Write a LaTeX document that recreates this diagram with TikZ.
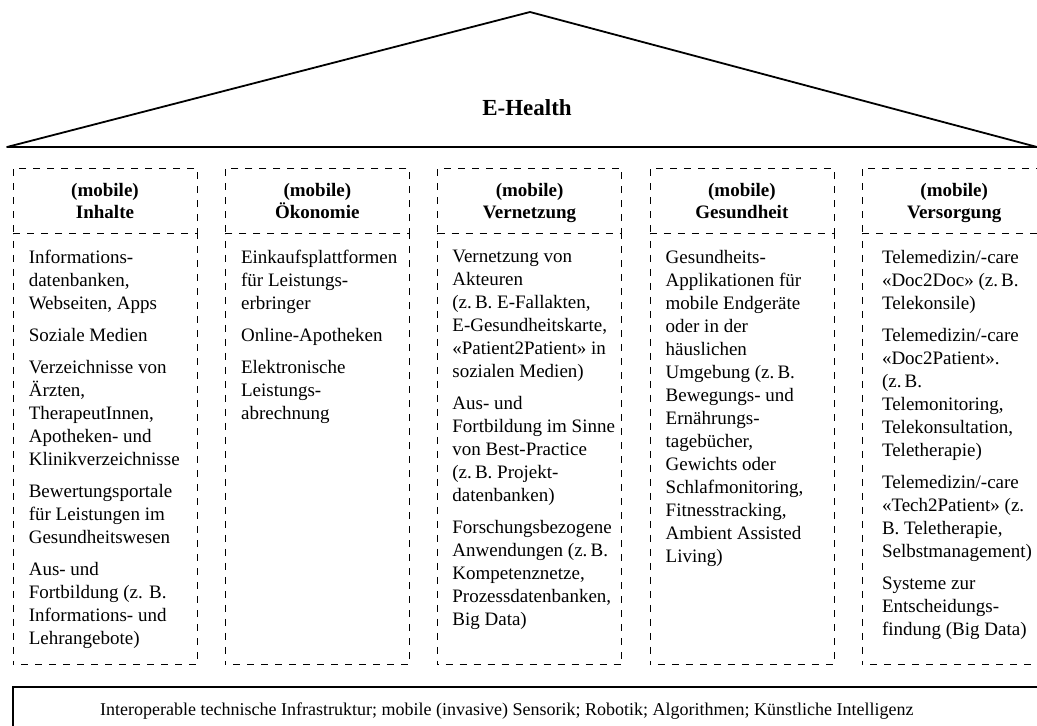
\documentclass[tikz,border=0pt]{standalone}
\usepackage{fontspec}
\setmainfont{Liberation Serif}
\usetikzlibrary{positioning}
\newcommand{\colhead}[1]{\rule{0pt}{18pt}(mobile)\\#1\rule[-5pt]{0pt}{5pt}}

\begin{document}
\begin{tikzpicture}[x=1pt,y=1pt,
  head/.style={draw,dash pattern=on 7pt off 7pt,line width=0.8pt,minimum width=184pt,minimum height=65pt,inner sep=0pt,align=center,font=\fontsize{19}{22}\selectfont\bfseries},
  body/.style={draw,dash pattern=on 7pt off 7pt,dash phase=6pt,line width=0.8pt,minimum width=184pt,minimum height=431pt,inner sep=0pt},
  items/.style={anchor=north west,inner sep=0pt,align=left,font=\fontsize{19}{23}\selectfont,execute at begin node={\rule{0pt}{14pt}}},
  roof/.style={line width=1.8pt,line join=round},
  frame/.style={line width=1.6pt},
  node distance=0pt and 27.5pt]
  \useasboundingbox (0,0) rectangle (1037,-726);
  \clip (0,0) rectangle (1037,-726);

  % roof
  \draw[roof] (7,-147) -- (530,-12) -- (1037,-147) -- cycle;
  \node[font=\fontsize{23}{27}\selectfont\bfseries] (ehealth) at (527,-108) {E-Health};

  % column heads
  \node[head] (hInh) at (105,-200.5) {\colhead{Inhalte}};
  \node[head,right=of hInh] (hOek) {\colhead{Ökonomie}};
  \node[head,right=of hOek] (hVer) {\colhead{Vernetzung}};
  \node[head,right=of hVer] (hGes) {\colhead{Gesundheit}};
  \node[head,right=of hGes] (hVso) {\colhead{Versorgung}};

  % column bodies
  \node[body,below=of hInh] (bInh) {};
  \node[body,below=of hOek] (bOek) {};
  \node[body,below=of hVer] (bVer) {};
  \node[body,below=of hGes] (bGes) {};
  \node[body,below=of hVso] (bVso) {};

  \node[items] (tInh) at ([xshift=16pt,yshift=-16.5pt]bInh.north west)
    {Informations-\\datenbanken,\\Webseiten, Apps\\[9pt]
     Soziale Medien\\[9pt]
     Verzeichnisse von\\Ärzten,\\TherapeutInnen,\\Apotheken- und\\Klinikverzeichnisse\\[9pt]
     Bewertungsportale\\für Leistungen im\\Gesundheitswesen\\[9pt]
     Aus- und\\Fortbildung (z. B.\\Informations- und\\Lehrangebote)};
  \node[items] (tOek) at ([xshift=16pt,yshift=-16.5pt]bOek.north west)
    {Einkaufsplattformen\\für Leistungs-\\erbringer\\[9pt]
     Online-Apotheken\\[9pt]
     Elektronische\\Leistungs-\\abrechnung};
  \node[items] (tVer) at ([xshift=15pt,yshift=-16.5pt]bVer.north west)
    {Vernetzung von\\Akteuren\\(z.\,B. E-Fallakten,\\E-Gesundheitskarte,\\«Patient2Patient» in\\sozialen Medien)\\[9pt]
     Aus- und\\Fortbildung im Sinne\\von Best-Practice\\(z.\,B. Projekt-\\datenbanken)\\[9pt]
     Forschungsbezogene\\Anwendungen (z.\,B.\\Kompetenznetze,\\Prozessdatenbanken,\\Big Data)};
  \node[items] (tGes) at ([xshift=16pt,yshift=-16.5pt]bGes.north west)
    {Gesundheits-\\Applikationen für\\mobile Endgeräte\\oder in der\\häuslichen\\Umgebung (z.\,B.\\Bewegungs- und\\Ernährungs-\\tagebücher,\\Gewichts oder\\Schlafmonitoring,\\Fitnesstracking,\\Ambient Assisted\\Living)};
  \node[items] (tVso) at ([xshift=20pt,yshift=-16.5pt]bVso.north west)
    {Telemedizin/-care\\«Doc2Doc» (z.\,B.\\Telekonsile)\\[9pt]
     Telemedizin/-care\\«Doc2Patient».\\(z.\,B.\\Telemonitoring,\\Telekonsultation,\\Teletherapie)\\[9pt]
     Telemedizin/-care\\«Tech2Patient» (z.\\B. Teletherapie,\\Selbstmanagement)\\[9pt]
     Systeme zur\\Entscheidungs-\\findung (Big Data)};

  % infrastructure
  \draw[frame] (13,-687) rectangle (1100,-800);
  \node[anchor=base west,inner sep=0pt,font=\fontsize{18}{22}\selectfont] (infra) at (100,-715.5)
    {Interoperable technische Infrastruktur; mobile (invasive) Sensorik; Robotik; Algorithmen; Künstliche Intelligenz};
\end{tikzpicture}
\end{document}
